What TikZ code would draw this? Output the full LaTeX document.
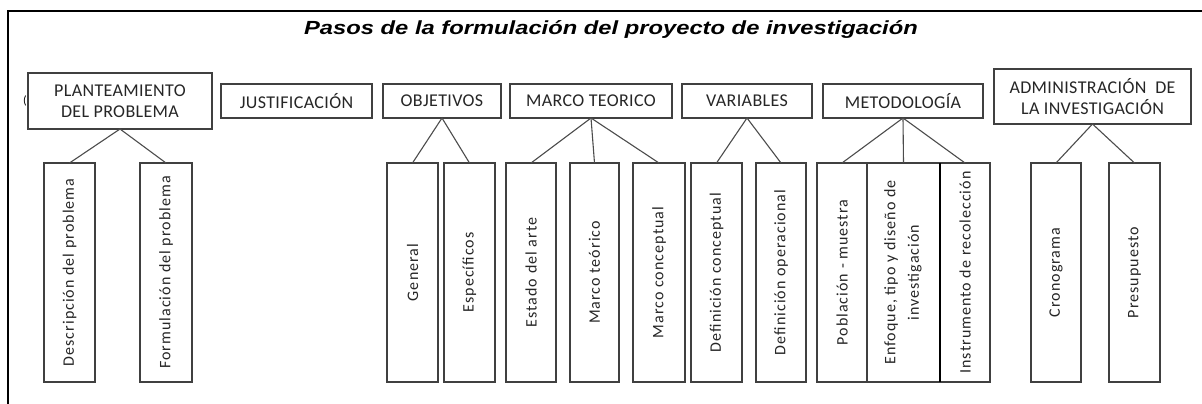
\documentclass[tikz,border=0pt]{standalone}
\usepackage{fontspec}
\setmainfont{Carlito}
\newfontfamily\titlefont{Liberation Sans}
\newfontfamily\topfont[LetterSpace=2]{Carlito}
\newfontfamily\vertfont[LetterSpace=6.5]{Carlito}
\begin{document}
\begin{tikzpicture}[x=1pt,y=-1pt,
  topbox/.style={draw=black!75, line width=1.4pt, fill=white, inner sep=0pt, outer sep=0pt,
    align=center, font=\topfont\fontsize{18}{21}\selectfont, text=black!85},
  vbox/.style={draw=black!75, line width=1.4pt, fill=white, inner sep=0pt, outer sep=0pt,
    minimum height=219, font=\vertfont\fontsize{16}{18.5}\selectfont, text=black!85},
  link/.style={draw=black!70, line width=1.1pt}]
\useasboundingbox (0,0) rectangle (1202,404);
\fill[white] (0,0) rectangle (1202,404);
% frame
\draw[line width=2pt, line cap=rect] (1202,11) -- (8,11) -- (8,404);
% title
\node[font=\titlefont\bfseries\itshape\fontsize{19}{22}\selectfont, xscale=1.25] (title) at (611,30)
  {Pasos de la formulación del proyecto de investigación};
% stray mark
\node[font=\fontsize{12}{14}\selectfont, inner sep=0pt] (mark) at (25,101) {(};
% top boxes
\node[topbox, minimum width=184, minimum height=56] (plan) at (120,101) {PLANTEAMIENTO\\DEL PROBLEMA};
\node[topbox, minimum width=151, minimum height=34] (just) at (296.5,101) {JUSTIFICACIÓN};
\node[topbox, minimum width=118, minimum height=34] (obj) at (442,101) {OBJETIVOS};
\node[topbox, minimum width=162, minimum height=34] (marco) at (591,101) {MARCO TEORICO};
\node[topbox, minimum width=130, minimum height=34] (var) at (747,101) {VARIABLES};
\node[topbox, minimum width=160, minimum height=34] (met) at (903,101) {METODOLOGÍA};
\node[topbox, minimum width=197, minimum height=55] (adm) at (1092.5,96.5) {ADMINISTRACIÓN~~DE\\LA INVESTIGACIÓN};
% bottom boxes
\node[vbox, minimum width=51] (desc) at (69.5,272.5) {\rotatebox{90}{Descripción del problema}};
\node[vbox, minimum width=52] (form) at (166,272.5) {\rotatebox{90}{Formulación del problema}};
\node[vbox, minimum width=51] (gen) at (412.5,272.5) {\rotatebox{90}{General}};
\node[vbox, minimum width=51] (esp) at (469.5,272.5) {\rotatebox{90}{Específicos}};
\node[vbox, minimum width=50] (est) at (531,272.5) {\rotatebox{90}{Estado del arte}};
\node[vbox, minimum width=49] (mt) at (594.5,272.5) {\rotatebox{90}{Marco teórico}};
\node[vbox, minimum width=52] (mc) at (659,272.5) {\rotatebox{90}{Marco conceptual}};
\node[vbox, minimum width=51] (dc) at (716.5,272.5) {\rotatebox{90}{Definición conceptual}};
\node[vbox, minimum width=50] (dop) at (781,272.5) {\rotatebox{90}{Definición operacional}};
\node[vbox, minimum width=50] (pob) at (842,272.5) {\rotatebox{90}{Población - muestra}};
\node[vbox, minimum width=73] (enf) at (903.5,272.5) {\rotatebox{90}{\begin{tabular}{@{}c@{}}Enfoque, tipo y diseño de\\[5pt]investigación\end{tabular}}};
\node[vbox, minimum width=50] (ins) at (965,272.5) {\rotatebox{90}{Instrumento de recolección}};
\node[vbox, minimum width=50] (cro) at (1056,272.5) {\rotatebox{90}{Cronograma}};
\node[vbox, minimum width=51] (pre) at (1134.5,272.5) {\rotatebox{90}{Presupuesto}};
\draw[line width=2pt] (ins.north west) -- (ins.south west);
% connectors
\draw[link] (desc.north) -- (plan.south) -- (form.north);
\draw[link] (gen.north) -- (obj.south) -- (esp.north);
\draw[link] (est.north) -- (marco.south) -- (mc.north);
\draw[link] (marco.south) -- (mt.north);
\draw[link] (dc.north) -- (var.south) -- (dop.north);
\draw[link] (pob.north) -- (met.south) -- (ins.north);
\draw[link] (met.south) -- (enf.north);
\draw[link] (cro.north) -- (adm.south) -- (pre.north);
\end{tikzpicture}
\end{document}
